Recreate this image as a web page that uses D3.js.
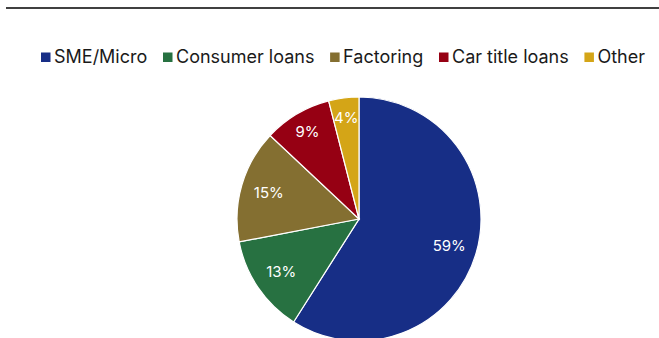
<!DOCTYPE html>
<html>
<head>
<meta charset="utf-8">
<script src="https://cdn.jsdelivr.net/npm/d3@7"></script>
<style>
  body { margin: 0; background: #fff; }
  svg { display: block; font-family: Inter, Roboto, sans-serif; }
</style>
</head>
<body>
<div id="chart"></div>
<script>
var width = 659;
var height = 338;

// segments, clockwise from 12 o'clock
var categories = ["SME/Micro", "Consumer loans", "Factoring", "Car title loans", "Other"];
var shares = [59, 13, 15, 9, 4];
var colours = ["#172e86", "#277141", "#846f31", "#960013", "#d4a517"];

var cx = 359, cy = 219, radius = 122;
// small slices get their label pushed further out, like the original
var labelPos = { "Car title loans": 0.83, "Other": 0.84 };

var svg = d3.select("#chart").append("svg")
  .attr("width", width)
  .attr("height", height);

// rule across the top
svg.append("line")
  .attr("x1", 6).attr("x2", width)
  .attr("y1", 8).attr("y2", 8)
  .attr("stroke", "#000")
  .attr("stroke-width", 1.6);

var data = categories.map(function (c, i) {
  return { name: c, value: shares[i], colour: colours[i] };
});

var pie = d3.pie().sort(null).value(function (d) { return d.value; });
var arc = d3.arc().innerRadius(0).outerRadius(radius);

var g = svg.append("g").attr("transform", "translate(" + cx + "," + cy + ")");

g.selectAll("path")
  .data(pie(data))
  .enter()
  .append("path")
  .attr("d", arc)
  .attr("fill", function (d) { return d.data.colour; })
  .attr("stroke", "#fff")
  .attr("stroke-width", 1.2);

g.selectAll("text")
  .data(pie(data))
  .enter()
  .append("text")
  .attr("transform", function (d) {
    var k = labelPos[d.data.name] || 0.77;
    var p = d3.arc().innerRadius(radius * k).outerRadius(radius * k).centroid(d);
    return "translate(" + p[0] + "," + p[1] + ")";
  })
  .attr("dy", "0.36em")
  .attr("text-anchor", "middle")
  .attr("fill", "#fff")
  .style("font-size", "15px")
  .text(function (d) { return d.data.value + "%"; });

// legend, laid out by measured text widths between x=41 and x=645
var legend = svg.append("g").attr("transform", "translate(41,57)");
var items = legend.selectAll("g.item")
  .data(data)
  .enter()
  .append("g")
  .attr("class", "item");

items.append("rect")
  .attr("width", 9.5).attr("height", 9.5)
  .attr("y", -4.5)
  .attr("fill", function (d) { return d.colour; });

items.append("text")
  .attr("x", 13)
  .attr("dy", "0.36em")
  .attr("fill", "#1a1a1a")
  .style("font-size", "18px")
  .text(function (d) { return d.name; });

var widths = [];
items.each(function () {
  widths.push(13 + d3.select(this).select("text").node().getComputedTextLength());
});
var gap = (604 - d3.sum(widths)) / (widths.length - 1);
var x = 0;
items.attr("transform", function (d, i) {
  var t = "translate(" + x + ",0)";
  x += widths[i] + gap;
  return t;
});
</script>
</body>
</html>
